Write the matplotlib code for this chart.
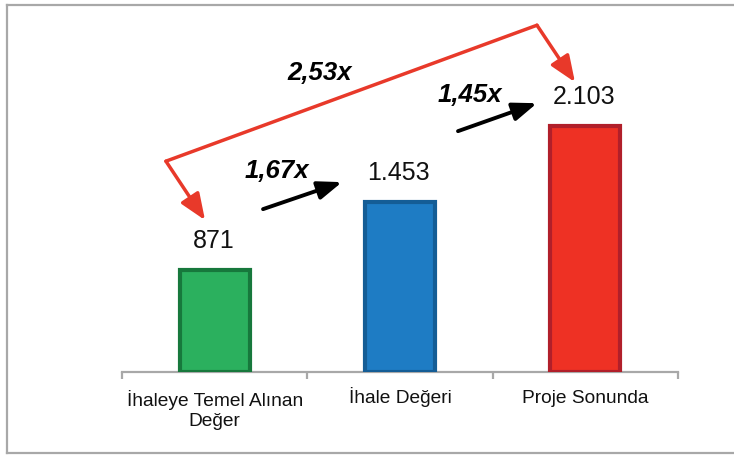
import matplotlib.pyplot as plt
from matplotlib.lines import Line2D

plt.rcParams['font.family'] = ['Liberation Sans', 'DejaVu Sans']

# values per stage
categories = ["İhaleye Temel Alınan\nDeğer", "İhale Değeri", "Proje Sonunda"]
values = [871, 1453, 2103]
value_labels = ["871", "1.453", "2.103"]
step_labels = ["1,67x", "1,45x"]
total_label = "2,53x"

fills = ["#2bb05e", "#1e7cc4", "#ee3124"]
edges = ["#17783c", "#145d96", "#b11f2a"]

fig = plt.figure(figsize=(7.34, 4.55), dpi=100)
ax = fig.add_axes([122 / 734, 1 - 372 / 455, 556 / 734, 349 / 455])

x = list(range(len(values)))
ax.bar(x, values, width=0.378, color=fills, edgecolor=edges, linewidth=3, zorder=3)

ax.set_xlim(-0.5, 2.5)
ax.set_ylim(0, 2985)

# value labels above bars
for xi, v, lab in zip(x, values, value_labels):
    ax.annotate(lab, (xi, v), xytext=(-1, 21), textcoords="offset points",
                ha="center", va="center", fontsize=18, color="#111111")

# axis styling: only the base line with category boundary ticks
for s in ["top", "right", "left"]:
    ax.spines[s].set_visible(False)
ax.spines["bottom"].set_color("#a8a8a8")
ax.spines["bottom"].set_linewidth(1.6)
ax.set_yticks([])
ax.set_xticks(x)
ax.set_xticklabels([])
ax.tick_params(axis="x", which="major", length=0)
ax.set_xticks([-0.5, 0.5, 1.5, 2.5], minor=True)
ax.tick_params(axis="x", which="minor", length=5, width=1.6, color="#a8a8a8")

# category names: first lines share one baseline
cat_size = 13.8
line_h = cat_size * 1.2
for xi, cat in zip(x, categories):
    n_lines = cat.count("\n") + 1
    ax.annotate(cat, xy=(xi, 0), xycoords=("data", "axes fraction"),
                xytext=(0, -22.3 - (n_lines - 1) * line_h), textcoords="offset points",
                ha="center", va="baseline", fontsize=cat_size, color="#111111",
                linespacing=1.2, multialignment="center", annotation_clip=False)

# step arrows between neighbouring bars
black_kw = dict(arrowstyle="-|>,head_length=1.45,head_width=0.55", color="black",
                lw=2.8, shrinkA=0, shrinkB=0)
ax.annotate("", xy=(0.687, 1624), xytext=(0.261, 1393), arrowprops=black_kw, zorder=4)
ax.annotate("", xy=(1.739, 2299), xytext=(1.313, 2060), arrowprops=black_kw, zorder=4)
ax.text(0.335, 1720, step_labels[0], ha="center", va="center", fontsize=18.5,
        fontweight="bold", fontstyle="italic")
ax.text(1.378, 2365, step_labels[1], ha="center", va="center", fontsize=18.5,
        fontweight="bold", fontstyle="italic")

# overall bracket from first to last bar
red = "#e8392a"
red_kw = dict(arrowstyle="-|>,head_length=1.6,head_width=0.65", color=red,
              lw=2.5, shrinkA=0, shrinkB=0)
ax.plot([-0.263, 1.739], [1803, 2966], color=red, lw=2.5, clip_on=False,
        solid_capstyle="round", zorder=4)
ax.annotate("", xy=(-0.052, 1299), xytext=(-0.263, 1803), arrowprops=red_kw,
            annotation_clip=False, zorder=4)
ax.annotate("", xy=(1.944, 2479), xytext=(1.739, 2966), arrowprops=red_kw,
            annotation_clip=False, zorder=4)
ax.text(0.568, 2556, total_label, ha="center", va="center", fontsize=18.5,
        fontweight="bold", fontstyle="italic")

# outer frame
frame_kw = dict(color="#a8a8a8", lw=1.6, transform=fig.transFigure)
fig.add_artist(Line2D([7 / 734, 7 / 734], [1 - 5 / 455, 1 - 453 / 455], **frame_kw))
fig.add_artist(Line2D([7 / 734, 1], [1 - 5 / 455, 1 - 5 / 455], **frame_kw))
fig.add_artist(Line2D([7 / 734, 1], [1 - 453 / 455, 1 - 453 / 455], **frame_kw))

fig.savefig("out.png", dpi=100)
